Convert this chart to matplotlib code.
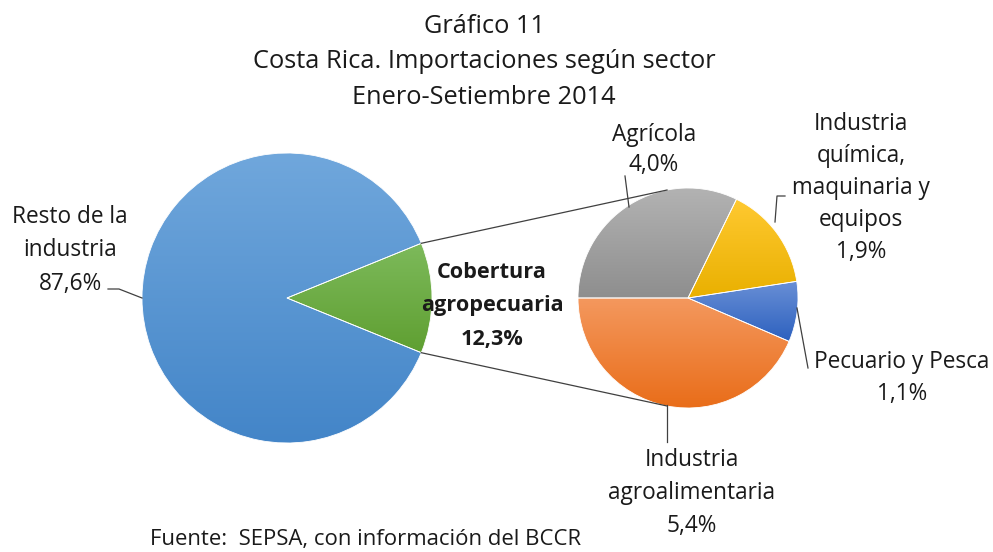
import matplotlib
matplotlib.use("Agg")
import matplotlib.pyplot as plt
import matplotlib.colors as mcolors
import numpy as np

plt.rcParams['font.family'] = ['Open Sans', 'DejaVu Sans']

# data
main_labels = ["Cobertura\nagropecuaria", "Resto de la\nindustria"]
main_values = [12.3, 87.6]
sub_labels = ["Agrícola", "Industria\nquímica,\nmaquinaria y\nequipos",
              "Pecuario y Pesca", "Industria\nagroalimentaria"]
sub_values = [4.0, 1.9, 1.1, 5.4]

title = "Gráfico 11\nCosta Rica. Importaciones según sector\nEnero-Setiembre 2014"
source = "Fuente:  SEPSA, con información del BCCR"

W, H = 993, 552
fig = plt.figure(figsize=(W / 100, H / 100), dpi=100)
ax = fig.add_axes([0, 0, 1, 1])

def py(y):  # pixel row -> data y
    return H - y

def pct(v):
    return f"{v:.1f}%".replace(".", ",")

# gradients (top, bottom)
main_cols = [("#7dba5b", "#5f9f31"), ("#70a7dc", "#4385c8")]
sub_cols = [("#b3b3b3", "#8e8e8e"), ("#ffc931", "#e9b000"),
            ("#6a90d6", "#2d61bf"), ("#f4985e", "#e96d19")]

def grad_fill(wedge, top, bottom):
    bb = wedge.get_path().get_extents()
    cmap = mcolors.LinearSegmentedColormap.from_list("g", [top, bottom])
    g = np.linspace(0, 1, 256).reshape(-1, 1)
    im = ax.imshow(g, cmap=cmap, extent=(bb.x0, bb.x1, bb.y0, bb.y1),
                   origin="upper", aspect="auto", zorder=1, interpolation="bilinear")
    im.set_clip_path(wedge)
    wedge.set_facecolor("none")
    wedge.set_zorder(2)

c1, r1 = (287, py(298)), 145
c2, r2 = (688, py(298)), 110

start1 = -main_values[0] / sum(main_values) * 180
w1, _ = ax.pie(main_values, center=c1, radius=r1, startangle=start1,
               wedgeprops=dict(edgecolor="white", linewidth=0.6))
for w, (t, b) in zip(w1, main_cols):
    grad_fill(w, t, b)

w2, _ = ax.pie(sub_values, center=c2, radius=r2, startangle=180, counterclock=False,
               wedgeprops=dict(edgecolor="white", linewidth=0.6))
for w, (t, b) in zip(w2, sub_cols):
    grad_fill(w, t, b)

# connector lines
half = np.deg2rad(main_values[0] / sum(main_values) * 180)
for s in (1, -1):
    a2 = np.deg2rad(s * 101)
    ax.plot([c1[0] + r1 * np.cos(half), c2[0] + r2 * np.cos(a2)],
            [c1[1] + s * r1 * np.sin(half), c2[1] + r2 * np.sin(a2)],
            color="#404040", lw=0.9, zorder=3)

# leader lines (pixel coords)
leaders = [
    [(108, 289), (119, 289), (142, 298)],
    [(625, 176), (629, 207)],
    [(785, 196), (777, 196), (775, 222)],
    [(797, 308), (808, 368)],
    [(667, 405), (667, 442)],
]
for pts in leaders:
    xs = [p[0] for p in pts]
    ys = [py(p[1]) for p in pts]
    ax.plot(xs, ys, color="#404040", lw=0.9, zorder=3)

fs = 16.3
tc = "#1a1a1a"

def block(x, y0, text, dy=32.5, size=fs, **kw):
    # one text per line, y0 = baseline of first line (pixel row)
    for i, line in enumerate(text.split("\n")):
        ax.text(x, py(y0 + i * dy), line, ha="center", va="baseline",
                fontsize=size, color=tc, **kw)

block(484, 33, title, dy=35.5, size=18.3)
block(70, 223, main_labels[1] + "\n" + pct(main_values[1]), dy=33.5)
block(492, 278, main_labels[0] + "\n" + pct(main_values[0]), dy=33.5, size=15.6,
      fontweight="bold")

sub_pos = [(654, 141, 30), (861, 130, 32), (902, 368, 32), (692, 466, 33)]
for lab, v, (x, y, d) in zip(sub_labels, sub_values, sub_pos):
    block(x, y, lab + "\n" + pct(v), dy=d)

ax.text(150, py(545), source, ha="left", va="baseline", fontsize=15.9, color=tc)

ax.set_xlim(0, W)
ax.set_ylim(0, H)
ax.set_aspect("auto")
ax.axis("off")

fig.savefig("out.png", dpi=100, facecolor="white")
